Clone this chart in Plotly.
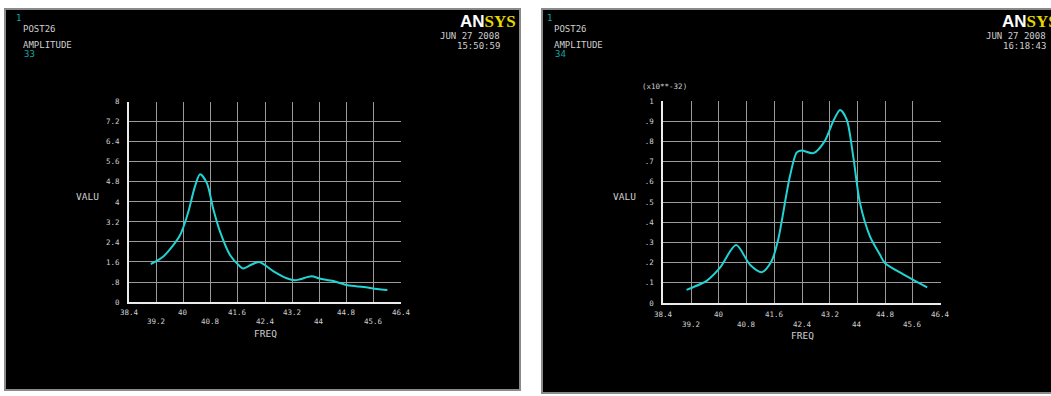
import plotly.graph_objects as go

W, H = 1051, 396

# Harmonic response: amplitude versus frequency, two nodes
freq_a = [39.04, 39.41, 39.90, 40.14, 40.34, 40.49, 40.69, 40.88, 41.08, 41.37,
          41.66, 41.76, 42.01, 42.23, 42.64, 43.04, 43.28, 43.43, 43.77, 44.00,
          44.41, 44.83, 45.30, 45.70, 46.00]
valu_a = [1.52, 1.82, 2.67, 3.58, 4.62, 5.10, 4.75, 3.71, 2.80, 1.88,
          1.43, 1.34, 1.50, 1.60, 1.24, 0.95, 0.87, 0.91, 1.03, 0.94,
          0.84, 0.67, 0.60, 0.52, 0.48]

freq_b = [39.07, 39.46, 39.65, 40.03, 40.50, 40.90, 41.24, 41.52, 41.72, 41.81,
          42.05, 42.25, 42.39, 42.73, 43.06, 43.30, 43.50, 43.69, 43.88, 44.07,
          44.36, 44.65, 44.79, 45.32, 45.66, 46.01]
valu_b = [0.065, 0.093, 0.110, 0.174, 0.287, 0.190, 0.153, 0.207, 0.320, 0.400,
          0.626, 0.746, 0.755, 0.742, 0.803, 0.900, 0.956, 0.908, 0.722, 0.497,
          0.330, 0.239, 0.198, 0.142, 0.110, 0.077]

x_ticks = [38.4, 39.2, 40.0, 40.8, 41.6, 42.4, 43.2, 44.0, 44.8, 45.6, 46.4]
x_tick_text = ["38.4", "39.2", "40", "40.8", "41.6", "42.4", "43.2", "44", "44.8", "45.6", "46.4"]
y_ticks_a = [0, 0.8, 1.6, 2.4, 3.2, 4.0, 4.8, 5.6, 6.4, 7.2, 8.0]
y_text_a = ["0", ".8", "1.6", "2.4", "3.2", "4", "4.8", "5.6", "6.4", "7.2", "8"]
y_ticks_b = [0, 0.1, 0.2, 0.3, 0.4, 0.5, 0.6, 0.7, 0.8, 0.9, 1.0]
y_text_b = ["0", ".1", ".2", ".3", ".4", ".5", ".6", ".7", ".8", ".9", "1"]

MONO = "DejaVu Sans Mono"
TXT = "#cfcfcf"
TEAL = "#10a8a8"
CURVE = "#22d3d3"
GRID = "#9a9a9a"


def px(x):
    return x / W


def py(y):
    return 1 - y / H


fig = go.Figure()
fig.add_trace(go.Scatter(x=freq_a, y=valu_a, mode="lines", xaxis="x", yaxis="y",
                         line=dict(color=CURVE, width=2, shape="spline", smoothing=0.8),
                         hoverinfo="skip"))
fig.add_trace(go.Scatter(x=freq_b, y=valu_b, mode="lines", xaxis="x2", yaxis="y2",
                         line=dict(color=CURVE, width=2, shape="spline", smoothing=0.8),
                         hoverinfo="skip"))


def xax(dom, anchor):
    return dict(domain=dom, range=[38.4, 46.4], anchor=anchor, tickvals=x_ticks,
                showticklabels=False, showgrid=True, gridcolor=GRID, gridwidth=1,
                showline=True, linecolor="#ececec", linewidth=2, zeroline=False,
                ticks="", fixedrange=True)


def yax(dom, anchor, vals, text):
    return dict(domain=dom, range=[vals[0], vals[-1]], anchor=anchor, tickvals=vals,
                ticktext=text, showgrid=True, gridcolor=GRID, gridwidth=1,
                showline=True, linecolor="#ececec", linewidth=2, zeroline=False,
                ticks="outside", ticklen=6, tickcolor="rgba(0,0,0,0)",
                tickfont=dict(family=MONO, size=7.5, color=TXT), fixedrange=True)


fig.update_layout(
    width=W, height=H, margin=dict(l=0, r=0, t=0, b=0),
    paper_bgcolor="white", plot_bgcolor="black", showlegend=False,
    xaxis=xax([px(129), px(401)], "y"),
    yaxis=yax([py(305), py(100)], "x", y_ticks_a, y_text_a),
    xaxis2=xax([px(663.3), px(940.7)], "y2"),
    yaxis2=yax([py(306), py(99.3)], "x2", y_ticks_b, y_text_b),
)

# Panel backgrounds with grey frames
shapes = [
    dict(type="rect", xref="paper", yref="paper", x0=px(5), x1=px(520), y0=py(395), y1=py(5),
         fillcolor="black", line=dict(color="#8a8a8a", width=2), layer="below"),
    dict(type="rect", xref="paper", yref="paper", x0=px(542), x1=px(1053), y0=py(398), y1=py(5),
         fillcolor="black", line=dict(color="#8a8a8a", width=2), layer="below"),
]
fig.update_layout(shapes=shapes)

ann = []


def text(x, y, s, size=9, color=TXT, xanchor="left", family=MONO):
    ann.append(dict(x=px(x), y=py(y), xref="paper", yref="paper", text=s, showarrow=False,
                    xanchor=xanchor, yanchor="middle",
                    font=dict(family=family, size=size, color=color)))


logo = ("<b><span style='color:#ffffff;font-family:Liberation Sans'>AN</span>"
        "<span style='color:#e6d800;font-family:Liberation Serif'>SYS</span></b>")

# Header blocks of each panel
for x0, xr, code, t1, lx in [(14, 502, "33", "15:50:59", 458), (545, 1048, "34", "16:18:43", 1000)]:
    text(x0, 14, "1", size=9, color=TEAL)
    text(x0 + 7, 26, "POST26")
    text(x0 + 7, 42, "AMPLITUDE")
    text(x0 + 8, 51, code, color=TEAL)
    text(xr, 33, "JUN 27 2008", xanchor="right")
    text(xr, 43, t1, xanchor="right")
    text(lx, 18, logo, size=17, color="white")

# Axis titles
text(87, 197, "VALU", size=9.5, xanchor="center")
text(624, 197, "VALU", size=9.5, xanchor="center")
ann.append(dict(x=0.5, y=py(337), xref="x domain", yref="paper", text="FREQ", showarrow=False,
                xanchor="center", yanchor="middle",
                font=dict(family=MONO, size=9.5, color=TXT)))
ann.append(dict(x=0.5, y=py(339), xref="x2 domain", yref="paper", text="FREQ", showarrow=False,
                xanchor="center", yanchor="middle",
                font=dict(family=MONO, size=9.5, color=TXT)))
text(640, 84, "(x10**-32)", size=7.5)

# Staggered frequency tick labels
for xr, ytop, ybot in [("x", 315.7, 325.0), ("x2", 317.3, 328.0)]:
    for i, (v, s) in enumerate(zip(x_ticks, x_tick_text)):
        ann.append(dict(x=v, y=py(ytop if i % 2 == 0 else ybot), xref=xr, yref="paper",
                        text=s, showarrow=False, xanchor="center", yanchor="middle",
                        font=dict(family=MONO, size=7.5, color=TXT)))

fig.update_layout(annotations=ann)
fig.write_html("out.html")
